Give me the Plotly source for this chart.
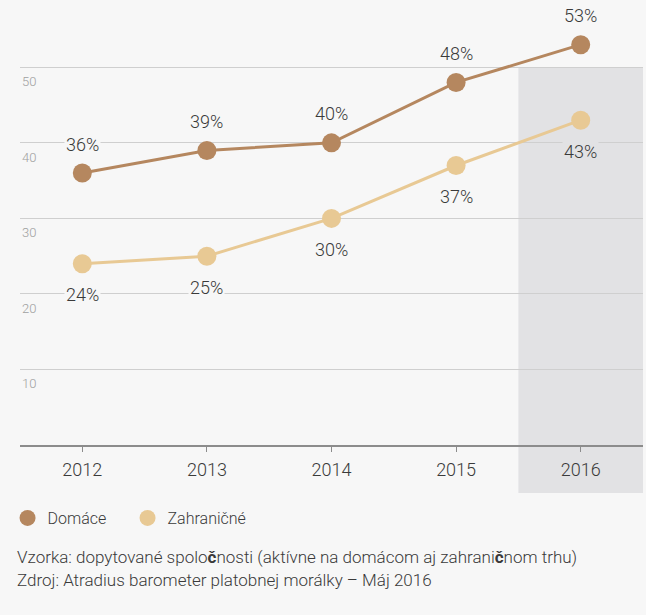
import plotly.graph_objects as go

years = [2012, 2013, 2014, 2015, 2016]
domace = [36, 39, 40, 48, 53]
zahranicne = [24, 25, 30, 37, 43]
series_names = ["Domáce", "Zahraničné"]
colors = ["#b5875f", "#e8c994"]
y_ticks = [10, 20, 30, 40, 50]
y_max = 56
captions = ["Vzorka: dopytované spolo<b>č</b>nosti (aktívne na domácom aj zahrani<b>č</b>nom trhu)",
            "Zdroj: Atradius barometer platobnej morálky – Máj 2016"]

FONT = "Roboto, Liberation Sans, sans-serif"
BG = "#f7f7f7"
BAND = "#e2e2e4"
TXT = "#3a3a3a"
W300 = 300

fig = go.Figure()

legend_ids = ["legend", "legend2"]
for name, vals, col, lg in zip(series_names, [domace, zahranicne], colors, legend_ids):
    fig.add_trace(go.Scatter(x=years, y=vals, mode="lines+markers", name=name,
                             line=dict(color=col, width=3),
                             marker=dict(size=19, color=col),
                             showlegend=False, cliponaxis=False, hoverinfo="skip"))
    fig.add_trace(go.Scatter(x=[None], y=[None], mode="markers", name=name,
                             marker=dict(size=18, color=col), showlegend=True, legend=lg))

# highlight band for last year
fig.add_shape(type="rect", xref="x", yref="paper", x0=years[-1] - 0.5, x1=years[-1] + 0.5,
              y0=-0.1135, y1=y_ticks[-1] / y_max, fillcolor=BAND, line=dict(width=0),
              layer="below")

annotations = []
for x, v in zip(years, domace):
    annotations.append(dict(x=x, y=v, xref="x", yref="y", text=f"{v}%", showarrow=False,
                            yshift=29, font=dict(size=18, color=TXT, family=FONT, weight=W300),
                            bgcolor=BG, borderpad=1))
for x, v in zip(years, zahranicne):
    annotations.append(dict(x=x, y=v, xref="x", yref="y", text=f"{v}%", showarrow=False,
                            yshift=-31, font=dict(size=18, color=TXT, family=FONT, weight=W300),
                            bgcolor=BAND if x == years[-1] else BG, borderpad=1))
for t in y_ticks:
    annotations.append(dict(x=0, y=t, xref="paper", yref="y", text=str(t), showarrow=False,
                            xanchor="left", yanchor="top", yshift=-5,
                            font=dict(size=13, color="#a0a0a0", family=FONT, weight=W300)))
for i, c in enumerate(captions):
    annotations.append(dict(x=-0.008, y=-0.265 - i * 0.0545, xref="paper", yref="paper", text=c,
                            showarrow=False, xanchor="left", yanchor="middle",
                            font=dict(size=17, color=TXT, family=FONT, weight=W300)))

legend_style = dict(orientation="h", xanchor="left", y=-0.1727, yanchor="middle",
                    font=dict(size=16, color=TXT, family=FONT, weight=W300),
                    bgcolor="rgba(0,0,0,0)", itemwidth=30)

fig.update_layout(
    width=646, height=615,
    margin=dict(l=20, r=3, t=22.2, b=170),
    paper_bgcolor=BG, plot_bgcolor=BG,
    font=dict(family=FONT, color=TXT),
    showlegend=True,
    legend=dict(x=-0.02, **legend_style),
    legend2=dict(x=-0.02 + 120 / 623, **legend_style),
    annotations=annotations,
    xaxis=dict(range=[years[0] - 0.5, years[-1] + 0.5], tickvals=years,
               ticktext=[str(y) for y in years], showgrid=False, zeroline=False,
               showline=True, linecolor="#8c8c8c", linewidth=1.5,
               ticks="outside", ticklen=5, tickcolor="#8c8c8c", ticklabelstandoff=3,
               tickfont=dict(size=18, color=TXT, family=FONT, weight=W300), fixedrange=True),
    yaxis=dict(range=[0, y_max], tickvals=y_ticks, showticklabels=False,
               showgrid=True, gridcolor="#cfcfcf", gridwidth=1, zeroline=False,
               showline=False, fixedrange=True),
)

fig.write_html("out.html", config={"displayModeBar": False},
               post_script="document.body.style.margin='0px';")
